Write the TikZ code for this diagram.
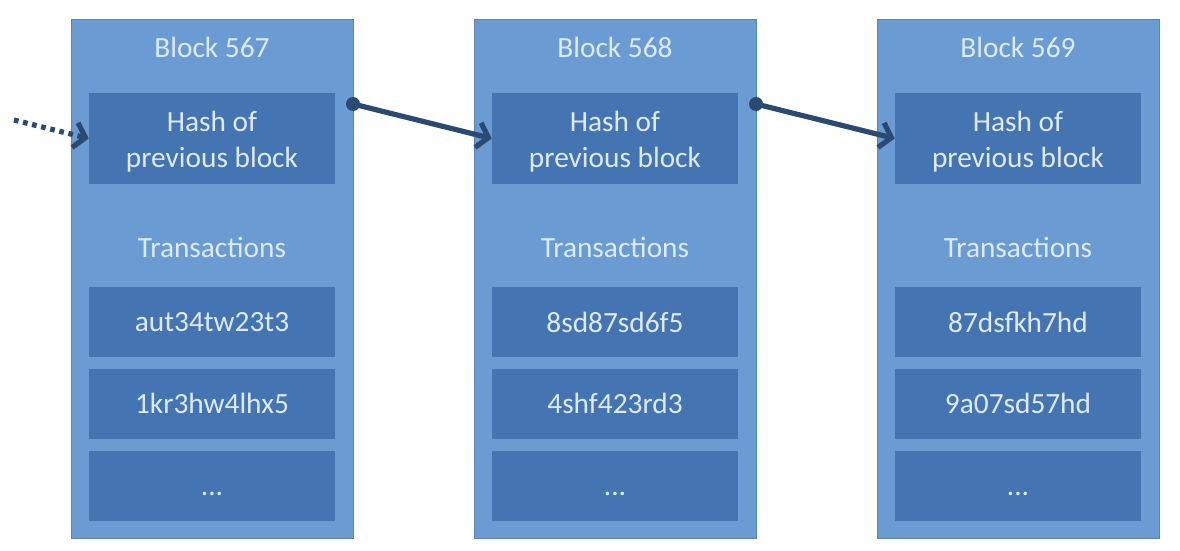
\documentclass[tikz,border=0pt]{standalone}
\usepackage{fontspec}
\setmainfont{Carlito}
\usetikzlibrary{arrows.meta}
\definecolor{blockblue}{HTML}{6A9BD3}
\definecolor{cellblue}{HTML}{4474B1}
\definecolor{textblue}{HTML}{DDEBF8}
\definecolor{arrowblue}{HTML}{2B4A72}
\tikzset{
  block/.style={fill=blockblue, draw=blockblue!85!black, line width=0.4pt,
    minimum width=211.5pt, minimum height=389.25pt, inner sep=0pt},
  cell/.style={fill=cellblue, minimum width=184.5pt, minimum height=52.5pt,
    inner sep=0pt, text=textblue, font=\fontsize{22}{27}\selectfont},
  caption/.style={text=textblue, inner sep=0pt, font=\fontsize{22}{27}\selectfont},
  link/.style={draw=arrowblue, line width=3.9pt,
    -{Straight Barb[length=8pt,width=19pt]}},
  dotlink/.style={link, dash pattern=on 3.5pt off 3.5pt}
}
\begin{document}
\begin{tikzpicture}[x=0.75pt,y=-0.75pt]
\useasboundingbox (0,0) rectangle (1180,550);
%blocks
\foreach \i/\n/\x/\ta/\tb in {1/567/212/aut34tw23t3/1kr3hw4lhx5,
    2/568/615/8sd87sd6f5/4shf423rd3, 3/569/1018/87dsfkh7hd/9a07sd57hd}{
  \node[block] (blk\i) at (\x,278.5) {};
  \node[caption] (title\i) at (\x,47) {Block \n};
  \node[cell, minimum height=68.25pt] (hash\i) at (\x,138.5)
    {\raisebox{-3pt}[\height][\depth]{\begin{tabular}{@{}c@{}}Hash of\\previous block\end{tabular}}};
  \node[caption] (txs\i) at (\x,247) {Transactions};
  \node[cell] (tx\i a) at (\x,322) {\ta};
  \node[cell] (tx\i b) at (\x,403.5) {\tb};
  \node[cell] (tx\i c) at (\x,486) {\raisebox{-6pt}[\height][\depth]{...}};
}
%links
\coordinate (in0) at (14,120);
\coordinate (out1) at (353,104);
\coordinate (out2) at (756,104);
\draw[dotlink] (in0) -- (hash1.west);
\draw[link] (out1) -- (hash2.west);
\draw[link] (out2) -- (hash3.west);
\fill[arrowblue] (out1) circle (7);
\fill[arrowblue] (out2) circle (7);
\end{tikzpicture}
\end{document}
